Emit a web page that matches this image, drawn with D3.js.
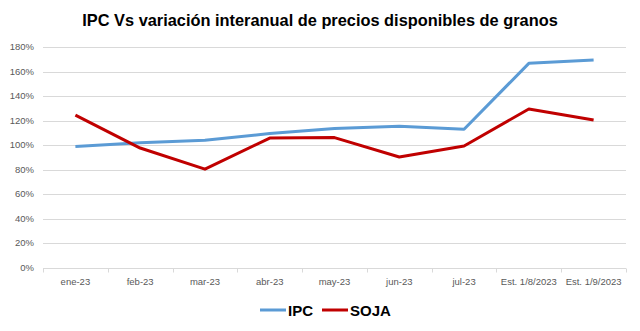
<!DOCTYPE html>
<html><head><meta charset="utf-8">
<script src="https://cdn.jsdelivr.net/npm/d3@7"></script>
<style>body{margin:0;background:#fff}svg{display:block}</style>
</head><body>
<svg id="c" width="640" height="331"></svg>
<script>
const categories = ["ene-23","feb-23","mar-23","abr-23","may-23","jun-23","jul-23","Est. 1/8/2023","Est. 1/9/2023"];
const ipcValues  = [0.99, 1.02, 1.04, 1.095, 1.137, 1.155, 1.13, 1.667, 1.694];
const sojaValues = [1.245, 0.977, 0.805, 1.058, 1.062, 0.904, 0.994, 1.295, 1.205];
const yTicks = [0, 0.2, 0.4, 0.6, 0.8, 1.0, 1.2, 1.4, 1.6, 1.8];
const seriesNames = ["IPC", "SOJA"];
const seriesColors = ["#5b9bd5", "#c00000"];
const title = "IPC Vs variación interanual de precios disponibles de granos";

const svg = d3.select("#c");
const L = 43, R = 626, T = 47, B = 268;
const x = d3.scaleBand().domain(categories).range([L, R]).padding(0);
const y = d3.scaleLinear().domain([0, 1.8]).range([B, T]);
const fmt = d3.format(".0%");

// title
const t = svg.append("text").attr("x", 320).attr("y", 26).attr("text-anchor", "middle")
  .attr("font-family", "'Liberation Sans Narrow','Liberation Sans',Arial,sans-serif")
  .attr("font-weight", "bold").attr("font-size", 18).attr("fill", "#000").text(title);
const tw = t.node().getComputedTextLength();
if (tw > 0) t.attr("font-size", 18 * 476 / tw);

// gridlines
svg.append("g").selectAll("line").data(yTicks.filter(d => d > 0)).join("line")
  .attr("x1", L).attr("x2", R).attr("y1", d => Math.round(y(d)) + 0.5).attr("y2", d => Math.round(y(d)) + 0.5)
  .attr("stroke", "#d9d9d9").attr("stroke-width", 1);

// y labels
svg.append("g").selectAll("text").data(yTicks).join("text")
  .attr("x", 34).attr("y", d => y(d) + 3).attr("text-anchor", "end")
  .attr("font-family", "'Liberation Sans Narrow','Liberation Sans',Arial,sans-serif")
  .attr("font-size", 9.5).attr("fill", "#595959").text(d => fmt(d));

// x axis
const xa = svg.append("g").attr("transform", `translate(0,${Math.round(B) + 0.5})`)
  .call(d3.axisBottom(x).tickSize(0).tickPadding(10));
xa.select(".domain").attr("stroke", "#d9d9d9").attr("d", `M${L},0H${R}`);
xa.selectAll("text").attr("font-family", "'Liberation Sans Narrow','Liberation Sans',Arial,sans-serif")
  .attr("font-size", 9.5).attr("fill", "#595959");
const bounds = categories.map(c => x(c)).concat([R]);
xa.append("g").selectAll("line").data(bounds).join("line")
  .attr("x1", d => Math.round(d) + 0.5).attr("x2", d => Math.round(d) + 0.5).attr("y1", 0).attr("y2", 4)
  .attr("stroke", "#d9d9d9");

// lines
const line = d3.line().x((d, i) => x(categories[i]) + x.bandwidth() / 2).y(d => y(d));
[ipcValues, sojaValues].forEach((vals, k) => {
  svg.append("path").datum(vals).attr("d", line).attr("fill", "none")
    .attr("stroke", seriesColors[k]).attr("stroke-width", 3).attr("stroke-linejoin", "round");
});

// legend
const lg = svg.append("g");
const legX = [260, 322];
seriesNames.forEach((n, k) => {
  lg.append("line").attr("x1", legX[k]).attr("x2", legX[k] + 26).attr("y1", 310).attr("y2", 310)
    .attr("stroke", seriesColors[k]).attr("stroke-width", 3);
  lg.append("text").attr("x", legX[k] + 28).attr("y", 315.5)
    .attr("font-family", "'Liberation Sans Narrow','Liberation Sans',Arial,sans-serif")
    .attr("font-weight", "bold").attr("font-size", 15).attr("fill", "#000").text(n);
});
</script>
</body></html>
